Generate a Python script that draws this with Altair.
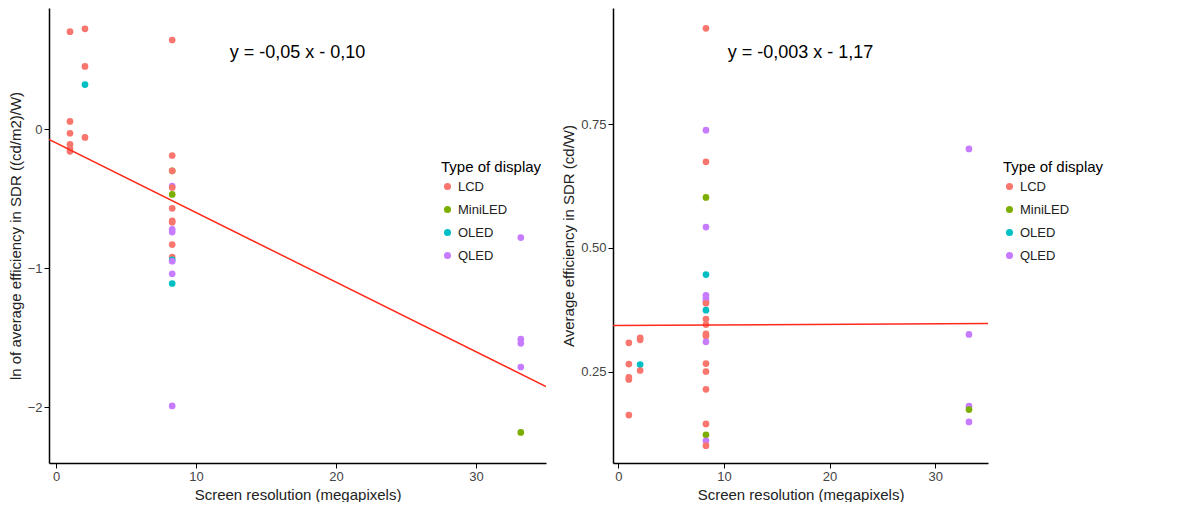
# %% Imports

import altair as alt
import pandas as pd

# %% Data

types = ["LCD", "MiniLED", "OLED", "QLED"]
colors = ["#F8766D", "#7CAE00", "#00BFC4", "#C77CFF"]

# left panel: ln of efficiency
ln_res = [1.0] * 6 + [2.07] * 4 + [8.3] * 19 + [33.2] * 5
ln_eff = [0.70, 0.055, -0.03, -0.11, -0.14, -0.16,
          0.72, 0.45, 0.32, -0.06,
          0.64, -0.19, -0.30, -0.41, -0.42, -0.47, -0.57, -0.66, -0.67, -0.72,
          -0.74, -0.83, -0.92, -0.94, -0.95, -1.04, -1.11, -1.99, -0.30,
          -0.78, -1.51, -1.54, -1.71, -2.18]
ln_type = ["LCD"] * 6 + ["LCD", "LCD", "OLED", "LCD"] + \
    ["LCD", "LCD", "MiniLED", "QLED", "LCD", "MiniLED", "LCD", "LCD", "LCD", "QLED",
     "QLED", "LCD", "LCD", "OLED", "QLED", "QLED", "OLED", "QLED", "LCD"] + \
    ["QLED", "QLED", "QLED", "QLED", "MiniLED"]

# right panel: efficiency
eff_res = [1.0] * 5 + [2.07] * 4 + [8.3] * 23 + [33.2] * 5
eff = [0.308, 0.265, 0.234, 0.238, 0.162,
       0.314, 0.318, 0.264, 0.252,
       0.944, 0.738, 0.674, 0.602, 0.542, 0.446, 0.404, 0.398, 0.392, 0.388,
       0.374, 0.356, 0.345, 0.326, 0.322, 0.31, 0.266, 0.25, 0.214, 0.144,
       0.122, 0.11, 0.10,
       0.70, 0.325, 0.18, 0.148, 0.173]
eff_type = ["LCD"] * 5 + ["LCD", "LCD", "OLED", "LCD"] + \
    ["LCD", "QLED", "LCD", "MiniLED", "QLED", "OLED", "QLED", "QLED", "QLED", "LCD",
     "OLED", "LCD", "LCD", "LCD", "LCD", "QLED", "LCD", "LCD", "LCD", "LCD",
     "MiniLED", "QLED", "LCD"] + \
    ["QLED", "QLED", "QLED", "QLED", "MiniLED"]

fit_x = [-0.5, 35]
left_fit = [-0.10 - 0.05 * v for v in fit_x]
right_fit = [0.343, 0.347]

left = pd.DataFrame({"res": ln_res, "val": ln_eff, "type": ln_type})
right = pd.DataFrame({"res": eff_res, "val": eff, "type": eff_type})

# %% Chart

FONT = "Liberation Sans"


def panel(df, fit, ytitle, ydomain, yvalues, fmt, eq, w, lx):
    color = alt.Color(
        "type:N",
        scale=alt.Scale(domain=types, range=colors),
        legend=alt.Legend(title="Type of display", orient="none", legendX=lx,
                          legendY=152, symbolType="circle", symbolSize=50,
                          titleFontSize=15, labelFontSize=13, titleFontWeight="normal",
                          rowPadding=9, labelColor="#222"),
    )
    x = alt.X("res:Q", title="Screen resolution (megapixels)",
              scale=alt.Scale(domain=[-0.5, 35], nice=False),
              axis=alt.Axis(values=[0, 10, 20, 30]))
    y = alt.Y("val:Q", title=ytitle, scale=alt.Scale(domain=ydomain, nice=False, zero=False),
              axis=alt.Axis(values=yvalues, format=fmt))
    pts = alt.Chart(df).mark_circle(size=45, opacity=1).encode(x=x, y=y, color=color)
    line = alt.Chart(pd.DataFrame({"res": fit_x, "val": fit})).mark_line(
        color="#FF2A1A", strokeWidth=1.5, clip=True).encode(x="res:Q", y="val:Q")
    txt = alt.Chart(pd.DataFrame({"t": [eq]})).mark_text(
        fontSize=18, font=FONT, color="black").encode(
        text="t:N", x=alt.value(w * 0.5), y=alt.value(45))
    return alt.layer(pts, line, txt).properties(width=w, height=455)


c1 = panel(left, left_fit, "ln of average efficiency in SDR ((cd/m2)/W)",
           [-2.4, 0.87], [-2, -1, 0], "d", "y = -0,05 x - 0,10", 497, 392)
c2 = panel(right, right_fit, "Average efficiency in SDR (cd/W)",
           [0.065, 0.985], [0.25, 0.5, 0.75], ".2f", "y = -0,003 x - 1,17", 375, 390)

chart = (
    alt.hconcat(c1, c2, spacing=15)
    .resolve_scale(color="independent")
    .resolve_legend(color="independent")
    .configure_view(stroke=None)
    .configure_axis(grid=False, domainColor="black", domainWidth=1.5, tickColor="black",
                    labelColor="#444", labelFontSize=13, titleFontSize=15,
                    titleFontWeight="normal", labelFont=FONT, titleFont=FONT,
                    titleColor="#222")
    .configure_legend(labelFont=FONT, titleFont=FONT)
    .properties(padding={"left": 0, "top": 0, "right": 0, "bottom": 0})
)

chart.save("out.html", embed_options={"renderer": "svg", "actions": False})
